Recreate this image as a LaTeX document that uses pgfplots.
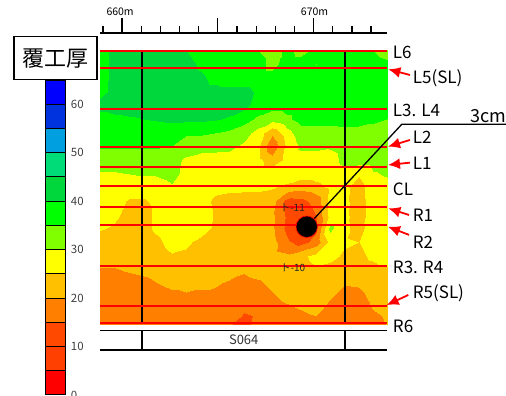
\documentclass[border=0pt]{standalone}
\usepackage{fontspec}
\setmainfont{Noto Sans CJK JP}
\usepackage{pgfplots}
\pgfplotsset{compat=1.18}
\usetikzlibrary{arrows.meta}
\definecolor{c00}{RGB}{255,0,0}
\definecolor{c05}{RGB}{255,64,0}
\definecolor{c10}{RGB}{255,72,0}
\definecolor{c15}{RGB}{255,128,0}
\definecolor{c20}{RGB}{255,192,0}
\definecolor{c25}{RGB}{255,255,0}
\definecolor{c30}{RGB}{128,255,0}
\definecolor{c35}{RGB}{0,255,0}
\definecolor{c40}{RGB}{0,215,60}
\definecolor{c45}{RGB}{0,220,120}
\definecolor{c50}{RGB}{0,160,224}
\definecolor{c55}{RGB}{0,51,221}
\definecolor{c60}{RGB}{0,0,255}
\newcommand\lab{\fontsize{17}{17}\selectfont}
\begin{document}
\begin{tikzpicture}
\path[use as bounding box] (0,0) rectangle (506pt,396pt);
% ---------- contour map (grid index units) ----------
\begin{axis}[at={(100pt,72pt)}, anchor=south west, width=287.4pt, height=273.5pt,
  scale only axis, xmin=0, xmax=20, ymin=0, ymax=20, y dir=reverse, hide axis,
  point meta min=0, point meta max=65,
  colormap={lining}{rgb255=(255,0,0) rgb255=(255,64,0) rgb255=(255,72,0) rgb255=(255,128,0)
    rgb255=(255,192,0) rgb255=(255,255,0) rgb255=(128,255,0) rgb255=(0,255,0) rgb255=(0,215,60)
    rgb255=(0,220,120) rgb255=(0,160,224) rgb255=(0,51,221) rgb255=(0,0,255)},
  colormap access=piecewise constant]
\addplot[surf, shader=interp, point meta=explicit, mesh/cols=21] coordinates {
(0,0)[37] (1,0)[42] (2,0)[42] (3,0)[42] (4,0)[42] (5,0)[42] (6,0)[40] (7,0)[37] (8,0)[37] (9,0)[37] (10,0)[37] (11,0)[35] (12,0)[33] (13,0)[36] (14,0)[33.5] (15,0)[36] (16,0)[37] (17,0)[37] (18,0)[37] (19,0)[35] (20,0)[33]
(0,1)[37] (1,1)[42] (2,1)[42] (3,1)[42] (4,1)[42] (5,1)[42] (6,1)[42] (7,1)[39] (8,1)[37] (9,1)[37] (10,1)[37] (11,1)[37] (12,1)[33.5] (13,1)[37] (14,1)[37] (15,1)[35] (16,1)[37] (17,1)[37] (18,1)[37] (19,1)[37] (20,1)[36]
(0,2)[37] (1,2)[42] (2,2)[42] (3,2)[42] (4,2)[42] (5,2)[42] (6,2)[42] (7,2)[41] (8,2)[38.5] (9,2)[37] (10,2)[37] (11,2)[37] (12,2)[37] (13,2)[37] (14,2)[37] (15,2)[37] (16,2)[37] (17,2)[37] (18,2)[37] (19,2)[37] (20,2)[37]
(0,3)[38] (1,3)[42] (2,3)[42] (3,3)[42] (4,3)[42] (5,3)[42] (6,3)[42] (7,3)[42] (8,3)[42] (9,3)[42] (10,3)[42] (11,3)[39] (12,3)[37] (13,3)[37] (14,3)[37] (15,3)[37] (16,3)[37] (17,3)[37] (18,3)[37] (19,3)[37] (20,3)[37]
(0,4)[42] (1,4)[42] (2,4)[42] (3,4)[42] (4,4)[42] (5,4)[42] (6,4)[42] (7,4)[42] (8,4)[42] (9,4)[42] (10,4)[41.5] (11,4)[38] (12,4)[37] (13,4)[37] (14,4)[37] (15,4)[37] (16,4)[37] (17,4)[37] (18,4)[37] (19,4)[37] (20,4)[36]
(0,5)[38] (1,5)[39] (2,5)[39.5] (3,5)[40] (4,5)[40.5] (5,5)[41] (6,5)[41] (7,5)[41] (8,5)[40.5] (9,5)[39.5] (10,5)[37] (11,5)[34] (12,5)[32] (13,5)[34] (14,5)[37] (15,5)[37] (16,5)[37] (17,5)[37] (18,5)[37] (19,5)[36] (20,5)[35]
(0,6)[37] (1,6)[37] (2,6)[37] (3,6)[37] (4,6)[37] (5,6)[36.5] (6,6)[35.5] (7,6)[35.5] (8,6)[35] (9,6)[34] (10,6)[32] (11,6)[28] (12,6)[21] (13,6)[28] (14,6)[33] (15,6)[33] (16,6)[33] (17,6)[33.5] (18,6)[33] (19,6)[33] (20,6)[32.5]
(0,7)[35.5] (1,7)[35.5] (2,7)[35.5] (3,7)[35.5] (4,7)[35.5] (5,7)[35] (6,7)[33] (7,7)[32.5] (8,7)[32] (9,7)[31.5] (10,7)[29] (11,7)[26] (12,7)[16] (13,7)[26] (14,7)[31] (15,7)[31] (16,7)[30.5] (17,7)[31.5] (18,7)[33] (19,7)[33] (20,7)[33]
(0,8)[33] (1,8)[33] (2,8)[33] (3,8)[33] (4,8)[32.5] (5,8)[32] (6,8)[29] (7,8)[27.5] (8,8)[27.5] (9,8)[27.5] (10,8)[27.5] (11,8)[26.5] (12,8)[22] (13,8)[26.5] (14,8)[28] (15,8)[28] (16,8)[28.5] (17,8)[31] (18,8)[32] (19,8)[32] (20,8)[32]
(0,9)[29.5] (1,9)[29.5] (2,9)[30] (3,9)[30.5] (4,9)[30.5] (5,9)[31.5] (6,9)[28.5] (7,9)[28] (8,9)[27.5] (9,9)[27.5] (10,9)[27.5] (11,9)[27.5] (12,9)[28.5] (13,9)[27.5] (14,9)[27] (15,9)[27] (16,9)[28] (17,9)[28.5] (18,9)[25.5] (19,9)[29.5] (20,9)[30.5]
(0,10)[27.5] (1,10)[27.5] (2,10)[27] (3,10)[27] (4,10)[28] (5,10)[29.5] (6,10)[28] (7,10)[27] (8,10)[26.5] (9,10)[26] (10,10)[26] (11,10)[26] (12,10)[25.5] (13,10)[24] (14,10)[22] (15,10)[23.5] (16,10)[26] (17,10)[26] (18,10)[23] (19,10)[28] (20,10)[28.5]
(0,11)[27.5] (1,11)[27] (2,11)[24.5] (3,11)[24.5] (4,11)[26] (5,11)[27.5] (6,11)[28] (7,11)[27] (8,11)[24] (9,11)[23.5] (10,11)[23] (11,11)[23] (12,11)[22] (13,11)[13] (14,11)[13.5] (15,11)[17] (16,11)[27] (17,11)[26] (18,11)[23] (19,11)[27.5] (20,11)[27.5]
(0,12)[26.5] (1,12)[26] (2,12)[23.5] (3,12)[23.5] (4,12)[26] (5,12)[28] (6,12)[28.5] (7,12)[28] (8,12)[24.5] (9,12)[23] (10,12)[22.5] (11,12)[22.5] (12,12)[21] (13,12)[14] (14,12)[11] (15,12)[15] (16,12)[27] (17,12)[26] (18,12)[23] (19,12)[27.5] (20,12)[27.5]
(0,13)[25.5] (1,13)[24.5] (2,13)[23.5] (3,13)[23.5] (4,13)[26] (5,13)[28] (6,13)[28.5] (7,13)[27.5] (8,13)[24] (9,13)[23] (10,13)[22.5] (11,13)[22.5] (12,13)[21] (13,13)[13.5] (14,13)[8] (15,13)[14] (16,13)[31.5] (17,13)[26] (18,13)[23.5] (19,13)[27.5] (20,13)[27.5]
(0,14)[23] (1,14)[23] (2,14)[22.5] (3,14)[22.5] (4,14)[24] (5,14)[27] (6,14)[26] (7,14)[23.5] (8,14)[22.5] (9,14)[22.5] (10,14)[22.5] (11,14)[22.5] (12,14)[22] (13,14)[16] (14,14)[13] (15,14)[17] (16,14)[26.5] (17,14)[25.5] (18,14)[25] (19,14)[27] (20,14)[27]
(0,15)[22] (1,15)[22] (2,15)[22] (3,15)[22] (4,15)[22.5] (5,15)[24.5] (6,15)[24] (7,15)[23] (8,15)[22.5] (9,15)[22.5] (10,15)[22] (11,15)[22] (12,15)[22] (13,15)[21] (14,15)[24] (15,15)[26.5] (16,15)[26] (17,15)[24.5] (18,15)[24] (19,15)[26] (20,15)[27.5]
(0,16)[19.8] (1,16)[19.8] (2,16)[20.5] (3,16)[21] (4,16)[21.5] (5,16)[22] (6,16)[22.5] (7,16)[22.5] (8,16)[22.5] (9,16)[22] (10,16)[20.5] (11,16)[21.5] (12,16)[22] (13,16)[22.5] (14,16)[23] (15,16)[24.5] (16,16)[24] (17,16)[23] (18,16)[23] (19,16)[23.5] (20,16)[24.5]
(0,17)[18] (1,17)[18] (2,17)[18.5] (3,17)[19] (4,17)[20] (5,17)[21] (6,17)[21] (7,17)[20.5] (8,17)[20.5] (9,17)[19.5] (10,17)[19] (11,17)[19.5] (12,17)[20.7] (13,17)[22] (14,17)[22.5] (15,17)[22.5] (16,17)[22] (17,17)[20.3] (18,17)[20.5] (19,17)[22] (20,17)[22.5]
(0,18)[17.5] (1,18)[17.5] (2,18)[17.5] (3,18)[17.5] (4,18)[18] (5,18)[19] (6,18)[19.5] (7,18)[19.5] (8,18)[19] (9,18)[18.5] (10,18)[18] (11,18)[18.5] (12,18)[19.5] (13,18)[21] (14,18)[22] (15,18)[22] (16,18)[20.3] (17,18)[18.5] (18,18)[19] (19,18)[21] (20,18)[22]
(0,19)[17.5] (1,19)[17.5] (2,19)[17.5] (3,19)[17.5] (4,19)[17.5] (5,19)[17.5] (6,19)[17.5] (7,19)[17.5] (8,19)[17.5] (9,19)[17] (10,19)[15.8] (11,19)[17] (12,19)[18] (13,19)[19] (14,19)[20] (15,19)[21] (16,19)[18.5] (17,19)[17.5] (18,19)[18] (19,19)[20] (20,19)[21]
(0,20)[17.5] (1,20)[17.5] (2,20)[17.5] (3,20)[17.5] (4,20)[17.5] (5,20)[17.5] (6,20)[17.5] (7,20)[17.5] (8,20)[17.5] (9,20)[16] (10,20)[12] (11,20)[18.5] (12,20)[17.5] (13,20)[18] (14,20)[18] (15,20)[18.5] (16,20)[18] (17,20)[17.5] (18,20)[17.5] (19,20)[18.5] (20,20)[20.2]
};
\end{axis}
% ---------- annotations (metres / row units) ----------
\begin{axis}[at={(100pt,72pt)}, anchor=south west, width=287.4pt, height=273.5pt,
  scale only axis, xmin=658.85, xmax=673.85, ymin=0, ymax=14, y dir=reverse,
  hide axis, clip=false]
% ruler
\addplot[black, line width=1.8pt] coordinates {(658.85,-0.896) (673.85,-0.896)};
\pgfplotsinvokeforeach{660,665,670}{
  \addplot[black, line width=1.3pt] coordinates {(#1,-0.896) (#1,-1.664)};
}
\pgfplotsinvokeforeach{659,661,662,663,664,666,667,668,669,671,672,673}{
  \addplot[black, line width=1.3pt] coordinates {(#1,-0.896) (#1,-1.254)};
}
\node[anchor=base, font=\fontsize{10.5}{11}\selectfont] at (axis cs:659.9,-1.79) {660m};
\node[anchor=base, font=\fontsize{10.5}{11}\selectfont] at (axis cs:670.05,-1.79) {670m};
% span lines
\addplot[black, line width=1.7pt] coordinates {(661.06,0) (661.06,13.96)};
\addplot[black, line width=1.7pt] coordinates {(671.64,0) (671.64,13.96)};
% measurement lines
\pgfplotsinvokeforeach{0.03,0.88,2.99,4.95,5.95,6.95,7.99,8.95,11.01,13.07,13.96}{
  \addplot[red, line width=2pt] coordinates {(658.85,#1) (673.85,#1)};
}
% bottom table
\addplot[black, line width=1.8pt] coordinates {(658.85,14.33) (673.85,14.33)};
\addplot[black, line width=1.8pt] coordinates {(658.85,15.33) (673.85,15.33)};
\addplot[black, line width=1.7pt] coordinates {(661.06,14.33) (661.06,15.33)};
\addplot[black, line width=1.7pt] coordinates {(671.64,14.33) (671.64,15.33)};
\node[font=\fontsize{13}{13}\selectfont, text=black!80] at (axis cs:666.35,14.83) {S064};
% core labels
\node[font=\fontsize{10}{10}\selectfont, text=black!85] at (axis cs:668.90,8.06) {ト-11};
\node[font=\fontsize{10}{10}\selectfont, text=black!85] at (axis cs:668.92,11.13) {ト-10};
% leader line and dot
\addplot[black, line width=1.3pt] coordinates {(669.64,9.02) (674.60,3.777) (680.04,3.777)};
\addplot[only marks, mark=*, mark size=10.7pt, mark options={fill=black, draw=red, line width=0.6pt}] coordinates {(669.64,9.02)};
% arrows
\pgfplotsset{arr/.style={red, line width=1.8pt, -{Latex[length=12pt,width=11pt]}}}
\addplot[arr] coordinates {(675.03,1.254) (673.90,0.962)};
\addplot[arr] coordinates {(675.03,4.58) (673.88,4.92)};
\addplot[arr] coordinates {(675.03,5.74) (673.88,5.86)};
\addplot[arr] coordinates {(674.98,8.42) (673.90,8.08)};
\addplot[arr] coordinates {(674.98,9.44) (673.88,9.02)};
\addplot[arr] coordinates {(674.94,12.515) (673.81,13.03)};
% right labels
\node[anchor=base west, inner sep=0pt, font=\lab] at (axis cs:674.13,0.384) {L6};
\node[anchor=base west, inner sep=0pt, font=\lab] at (axis cs:675.17,1.664) {L5(SL)};
\node[anchor=base west, inner sep=0pt, font=\lab] at (axis cs:674.13,3.404) {L3. L4};
\node[anchor=base west, inner sep=0pt, font=\lab] at (axis cs:675.17,4.735) {L2};
\node[anchor=base west, inner sep=0pt, font=\lab] at (axis cs:675.17,6.081) {L1};
\node[anchor=base west, inner sep=0pt, font=\lab] at (axis cs:674.13,7.397) {CL};
\node[anchor=base west, inner sep=0pt, font=\lab] at (axis cs:675.17,8.763) {R1};
\node[anchor=base west, inner sep=0pt, font=\lab] at (axis cs:675.17,10.11) {R2};
\node[anchor=base west, inner sep=0pt, font=\lab] at (axis cs:674.13,11.39) {R3. R4};
\node[anchor=base west, inner sep=0pt, font=\lab] at (axis cs:675.17,12.69) {R5(SL)};
\node[anchor=base west, inner sep=0pt, font=\lab] at (axis cs:674.13,14.46) {R6};
\node[anchor=base west, inner sep=0pt, font=\fontsize{18}{18}\selectfont] at (axis cs:678.16,3.66) {3cm};
\end{axis}
% ---------- colour scale ----------
\begin{axis}[at={(45.7pt,1pt)}, anchor=south west, width=20pt, height=315pt,
  scale only axis, xmin=0, xmax=1, ymin=0, ymax=65, hide axis, clip=false]
\addplot[fill=c00, draw=black, line width=1pt] coordinates {(0,0) (1,0) (1,5) (0,5) (0,0)};
\addplot[fill=c05, draw=black, line width=1pt] coordinates {(0,5) (1,5) (1,10) (0,10) (0,5)};
\addplot[fill=c10, draw=black, line width=1pt] coordinates {(0,10) (1,10) (1,15) (0,15) (0,10)};
\addplot[fill=c15, draw=black, line width=1pt] coordinates {(0,15) (1,15) (1,20) (0,20) (0,15)};
\addplot[fill=c20, draw=black, line width=1pt] coordinates {(0,20) (1,20) (1,25) (0,25) (0,20)};
\addplot[fill=c25, draw=black, line width=1pt] coordinates {(0,25) (1,25) (1,30) (0,30) (0,25)};
\addplot[fill=c30, draw=black, line width=1pt] coordinates {(0,30) (1,30) (1,35) (0,35) (0,30)};
\addplot[fill=c35, draw=black, line width=1pt] coordinates {(0,35) (1,35) (1,40) (0,40) (0,35)};
\addplot[fill=c40, draw=black, line width=1pt] coordinates {(0,40) (1,40) (1,45) (0,45) (0,40)};
\addplot[fill=c45, draw=black, line width=1pt] coordinates {(0,45) (1,45) (1,50) (0,50) (0,45)};
\addplot[fill=c50, draw=black, line width=1pt] coordinates {(0,50) (1,50) (1,55) (0,55) (0,50)};
\addplot[fill=c55, draw=black, line width=1pt] coordinates {(0,55) (1,55) (1,60) (0,60) (0,55)};
\addplot[fill=c60, draw=black, line width=1pt] coordinates {(0,60) (1,60) (1,65) (0,65) (0,60)};
\pgfplotsinvokeforeach{0,10,20,30,40,50,60}{
  \node[anchor=west, inner sep=0pt, text=black!75, font=\fontsize{11.5}{12}\selectfont] at (axis cs:1.25,#1) {#1};
}
\node[draw=black, line width=1.2pt, minimum width=83pt, minimum height=43pt, inner sep=0pt,
  fill=white, font=\fontsize{22}{22}\selectfont] at (axis cs:0.49,69.46) {覆工厚};
\end{axis}
\end{tikzpicture}
\end{document}
